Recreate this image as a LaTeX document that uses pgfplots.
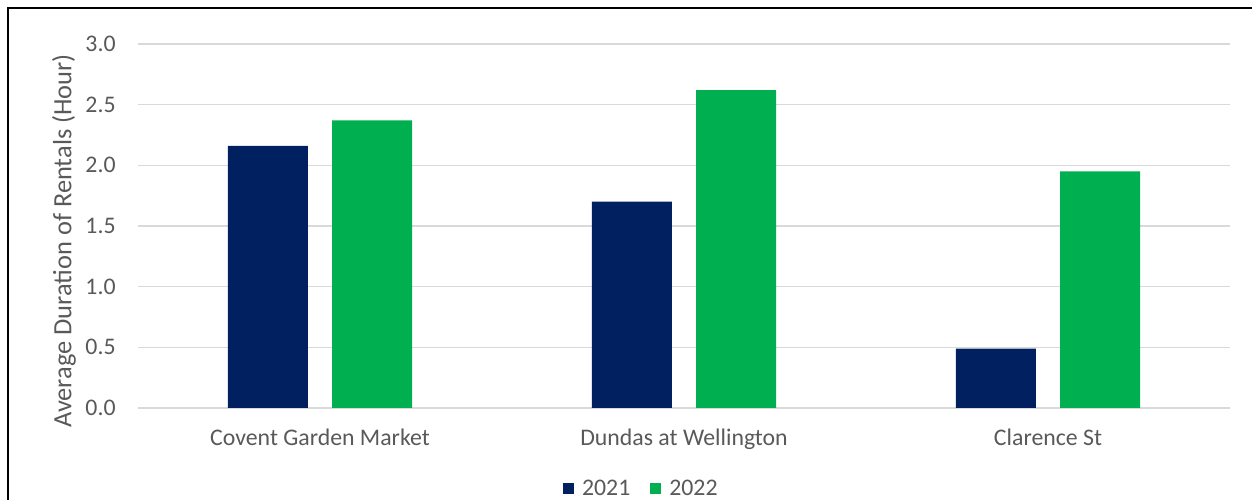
\documentclass[border=0pt]{standalone}
\usepackage{fontspec}
\setmainfont{Carlito}
\usepackage{pgfplots}
\pgfplotsset{compat=1.18}
\definecolor{navy}{HTML}{002060}
\definecolor{grn}{HTML}{00B050}
\definecolor{txt}{HTML}{595959}
\definecolor{gridc}{HTML}{D9D9D9}
\begin{document}
\begin{tikzpicture}
\begin{axis}[
  at={(69bp,46bp)}, anchor=south west,
  scale only axis, width=546bp, height=182bp,
  xmin=-0.5, xmax=2.5, ymin=0, ymax=3,
  ybar, bar width=0.22,
  xtick={0,1,2},
  xticklabels={Covent Garden Market, Dundas at Wellington, Clarence St},
  ytick={0,0.5,1,1.5,2,2.5,3},
  /pgf/number format/fixed,
  /pgf/number format/fixed zerofill,
  /pgf/number format/precision=1,
  /pgf/number format/assume math mode=true,
  axis line style={draw=none},
  major tick length=0pt,
  ymajorgrids,
  grid style={gridc, line width=0.8bp},
  ticklabel style={font=\fontsize{11.9bp}{14bp}\selectfont, text=txt},
  yticklabel style={anchor=east, inner sep=0pt, xshift=-11bp},
  xticklabel style={anchor=base, inner sep=0pt, yshift=-18.5bp},
  ylabel={Average Duration of Rentals (Hour)},
  ylabel style={at={(axis description cs:-0.0678,0.459)}, anchor=center, inner sep=0pt,
    font=\fontsize{13.2bp}{15bp}\selectfont, text=txt},
  legend columns=2,
  legend style={at={(axis description cs:0.46,-0.222)}, anchor=center, draw=none, fill=none,
    font=\fontsize{11.9bp}{14bp}\selectfont, text=txt,
    nodes={inner sep=0pt},
    /tikz/every odd column/.append style={column sep=4bp},
    /tikz/every even column/.append style={column sep=10bp}},
]
\addplot[fill=navy, draw=none, bar shift=-0.143,
  legend image code/.code={\fill[navy] (0bp,-2.75bp) rectangle (5.5bp,2.75bp);}]
  coordinates {(0,2.16) (1,1.70) (2,0.49)};
\addplot[fill=grn, draw=none, bar shift=0.143,
  legend image code/.code={\fill[grn] (0bp,-2.75bp) rectangle (5.5bp,2.75bp);}]
  coordinates {(0,2.37) (1,2.62) (2,1.95)};
\legend{2021, 2022}
\end{axis}
\draw[line width=1bp, black] (4bp,-10bp) -- (4bp,246bp) -- (640bp,246bp);
\pgfresetboundingbox
\useasboundingbox (0,0) rectangle (626bp,250bp);
\end{tikzpicture}
\end{document}
